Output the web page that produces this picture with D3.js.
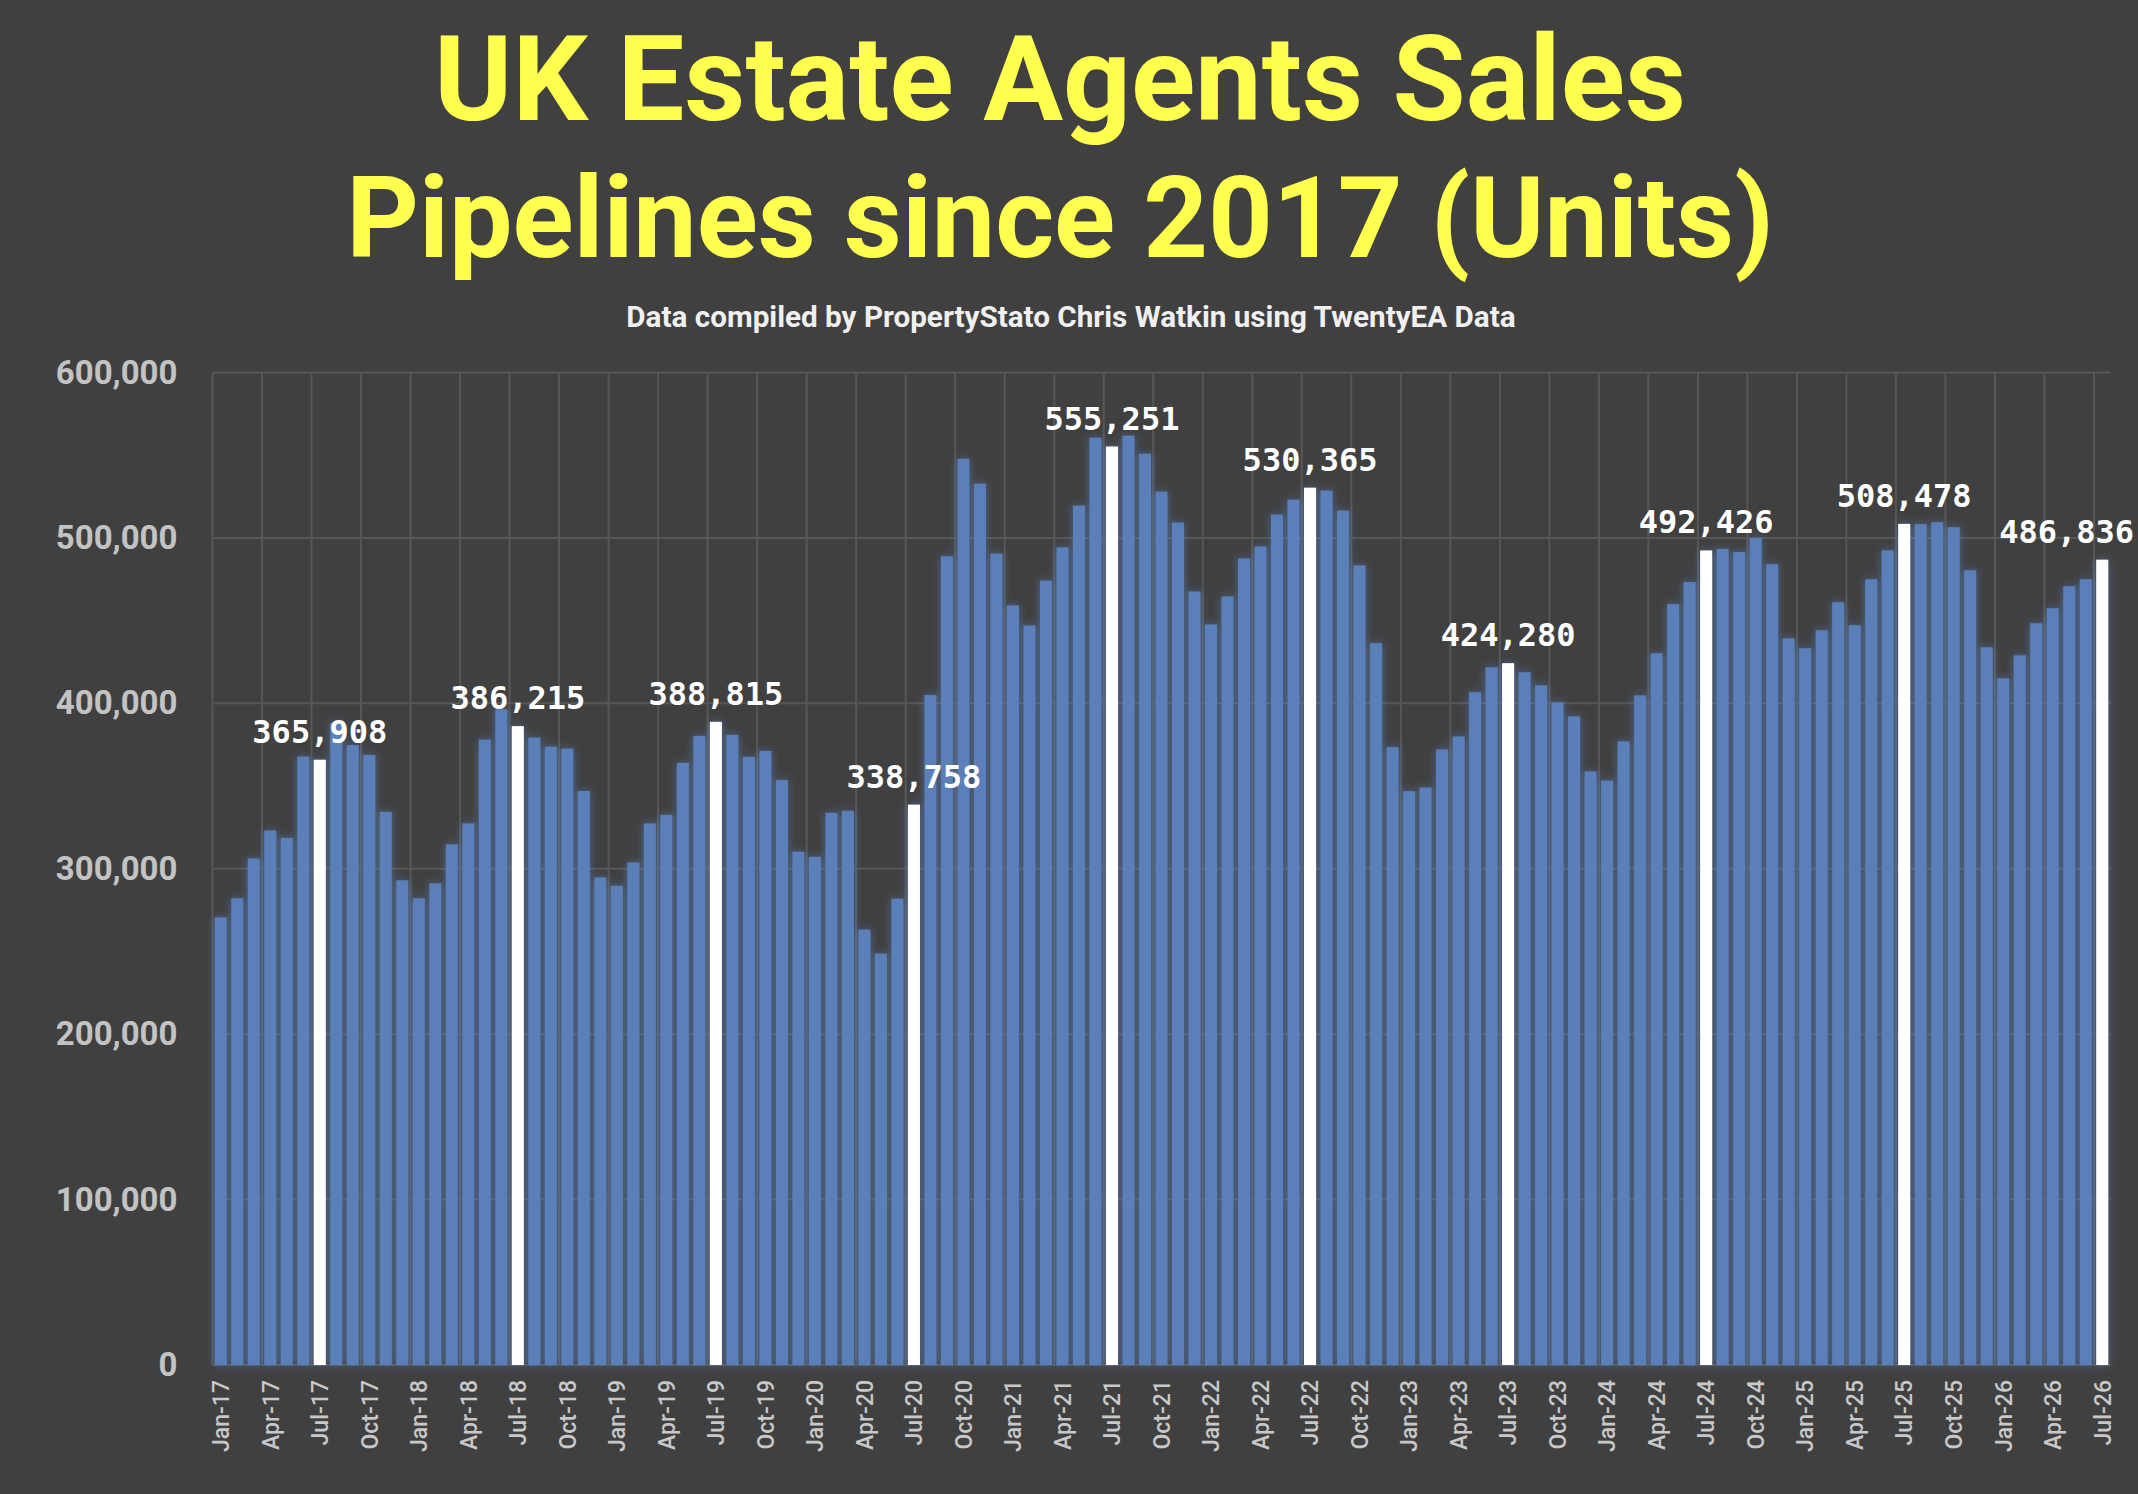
<!DOCTYPE html>
<html>
<head>
<meta charset="utf-8">
<script src="https://cdn.jsdelivr.net/npm/d3@7"></script>
<style>
  html, body { margin: 0; padding: 0; background: #404040; }
  svg { display: block; }
</style>
</head>
<body>
<svg id="chart" width="2138" height="1494"></svg>
<script>
// ---------------- DATA ----------------
const categories = [
  "Jan-17","Feb-17","Mar-17","Apr-17","May-17","Jun-17","Jul-17","Aug-17","Sep-17","Oct-17","Nov-17","Dec-17",
  "Jan-18","Feb-18","Mar-18","Apr-18","May-18","Jun-18","Jul-18","Aug-18","Sep-18","Oct-18","Nov-18","Dec-18",
  "Jan-19","Feb-19","Mar-19","Apr-19","May-19","Jun-19","Jul-19","Aug-19","Sep-19","Oct-19","Nov-19","Dec-19",
  "Jan-20","Feb-20","Mar-20","Apr-20","May-20","Jun-20","Jul-20","Aug-20","Sep-20","Oct-20","Nov-20","Dec-20",
  "Jan-21","Feb-21","Mar-21","Apr-21","May-21","Jun-21","Jul-21","Aug-21","Sep-21","Oct-21","Nov-21","Dec-21",
  "Jan-22","Feb-22","Mar-22","Apr-22","May-22","Jun-22","Jul-22","Aug-22","Sep-22","Oct-22","Nov-22","Dec-22",
  "Jan-23","Feb-23","Mar-23","Apr-23","May-23","Jun-23","Jul-23","Aug-23","Sep-23","Oct-23","Nov-23","Dec-23",
  "Jan-24","Feb-24","Mar-24","Apr-24","May-24","Jun-24","Jul-24","Aug-24","Sep-24","Oct-24","Nov-24","Dec-24",
  "Jan-25","Feb-25","Mar-25","Apr-25","May-25","Jun-25","Jul-25","Aug-25","Sep-25","Oct-25","Nov-25","Dec-25",
  "Jan-26","Feb-26","Mar-26","Apr-26","May-26","Jun-26","Jul-26"
];

const pipelineUnits = [
  270600,282100,306200,323100,318700,367800,365908,388000,374800,368800,334400,293000,
  282100,291200,314700,327400,378100,396400,386215,379300,373800,372600,347000,294800,
  289700,303800,327400,332600,364000,380300,388815,380900,367600,371200,353700,310300,
  307200,333800,335000,263200,248700,281900,338758,405000,488900,547800,532800,490500,
  459200,447100,474200,494300,519500,560600,555251,561800,550900,528000,509300,467600,
  447700,464600,487500,494800,514100,523100,530365,528600,516500,483400,436400,373500,
  346900,349100,372100,380000,406700,421800,424280,418800,410900,400600,392100,358800,
  353300,377000,404800,430300,460000,473300,492426,493300,491500,499800,484100,439300,
  433300,444200,461100,447200,475000,492500,508478,508300,509500,506500,480400,433900,
  415100,429000,448400,457500,470800,475000,486836
];

const highlighted = ["Jul-17","Jul-18","Jul-19","Jul-20","Jul-21","Jul-22","Jul-23","Jul-24","Jul-25","Jul-26"];

const xTickLabels = [
  "Jan-17","Apr-17","Jul-17","Oct-17","Jan-18","Apr-18","Jul-18","Oct-18",
  "Jan-19","Apr-19","Jul-19","Oct-19","Jan-20","Apr-20","Jul-20","Oct-20",
  "Jan-21","Apr-21","Jul-21","Oct-21","Jan-22","Apr-22","Jul-22","Oct-22",
  "Jan-23","Apr-23","Jul-23","Oct-23","Jan-24","Apr-24","Jul-24","Oct-24",
  "Jan-25","Apr-25","Jul-25","Oct-25","Jan-26","Apr-26","Jul-26"
];

const yTicks = [0,100000,200000,300000,400000,500000,600000];

const titleLines = ["UK Estate Agents Sales", "Pipelines since 2017 (Units)"];
const subtitle = "Data compiled by PropertyStato Chris Watkin using TwentyEA Data";

// ---------------- LAYOUT ----------------
const W = 2138, H = 1494;
const plot = { left: 212.5, right: 2110.5, top: 372.5, bottom: 1365 };

const svg = d3.select("#chart");
svg.append("rect").attr("width", W).attr("height", H).attr("fill", "#404040");

// glow filter
const defs = svg.append("defs");
const f = defs.append("filter").attr("id", "glow")
  .attr("x", "-60%").attr("y", "-10%").attr("width", "220%").attr("height", "120%");
f.append("feGaussianBlur").attr("in", "SourceAlpha").attr("stdDeviation", 4).attr("result", "blur");
f.append("feFlood").attr("flood-color", "#5b8ad0").attr("flood-opacity", 0.55).attr("result", "col");
f.append("feComposite").attr("in", "col").attr("in2", "blur").attr("operator", "in").attr("result", "glowc");
const fm = f.append("feMerge");
fm.append("feMergeNode").attr("in", "glowc");
fm.append("feMergeNode").attr("in", "SourceGraphic");

const x = d3.scaleBand()
  .domain(categories)
  .range([plot.left, plot.right])
  .paddingInner(0.27)
  .paddingOuter(0.135);

const y = d3.scaleLinear()
  .domain([0, 600000])
  .range([plot.bottom, plot.top]);

const gap = (x.step() - x.bandwidth()) / 2;
const gridColor = "#575757";

// horizontal gridlines
svg.append("g").selectAll("line").data(yTicks).join("line")
  .attr("x1", plot.left).attr("x2", plot.right)
  .attr("y1", d => y(d)).attr("y2", d => y(d))
  .attr("stroke", gridColor).attr("stroke-width", 2);

// vertical gridlines (every 3 months at category boundaries)
svg.append("g").selectAll("line").data(xTickLabels).join("line")
  .attr("x1", d => x(d) - gap).attr("x2", d => x(d) - gap)
  .attr("y1", plot.top).attr("y2", plot.bottom)
  .attr("stroke", gridColor).attr("stroke-width", 2);

// bars
const data = categories.map((c, i) => ({ c, v: pipelineUnits[i], hi: highlighted.includes(c) }));

svg.append("g").attr("filter", "url(#glow)")
  .selectAll("rect").data(data).join("rect")
  .attr("x", d => x(d.c))
  .attr("width", x.bandwidth())
  .attr("y", d => y(d.v))
  .attr("height", d => y(0) - y(d.v))
  .attr("fill", d => d.hi ? "#ffffff" : "#5a7fb9");

// y axis
const yAxis = svg.append("g")
  .attr("transform", `translate(${plot.left},0)`)
  .call(d3.axisLeft(y).tickValues(yTicks).tickFormat(d3.format(",")).tickSize(0).tickPadding(35));
yAxis.select(".domain").remove();
yAxis.selectAll("text")
  .attr("fill", "#c3c3c3")
  .style("font-family", "Roboto, 'DejaVu Sans', sans-serif")
  .style("font-weight", "700")
  .style("font-size", "33px");

// x axis
const xAxis = svg.append("g")
  .attr("transform", `translate(0,${plot.bottom})`)
  .call(d3.axisBottom(x).tickValues(xTickLabels).tickSize(0));
xAxis.select(".domain").remove();
xAxis.selectAll("text")
  .attr("transform", "rotate(-90)")
  .attr("x", -15).attr("y", 0).attr("dy", "0.36em")
  .style("text-anchor", "end")
  .attr("fill", "#c8c8c8")
  .style("font-family", "Roboto, 'DejaVu Sans', sans-serif")
  .style("font-weight", "500")
  .style("font-size", "23px");

// data labels on highlighted bars (kept inside the picture, as the reference does)
svg.append("g").selectAll("text").data(data.filter(d => d.hi)).join("text")
  .attr("x", d => x(d.c) + x.bandwidth() / 2)
  .attr("y", d => y(d.v) - 17)
  .attr("text-anchor", "middle")
  .attr("fill", "#ffffff")
  .style("font-family", "'DejaVu Sans Mono', monospace")
  .style("font-weight", "700")
  .style("font-size", "32px")
  .text(d => d3.format(",")(d.v))
  .each(function(d) {
    const w = this.getComputedTextLength();
    const cx = +this.getAttribute("x");
    const maxRight = W - 4;
    if (cx + w / 2 > maxRight) this.setAttribute("x", maxRight - w / 2);
  });

// title (each line fitted to the reference's width)
const titleTargets = [1252, 1428];
svg.append("g").selectAll("text").data(titleLines).join("text")
  .attr("x", 1060)
  .attr("y", (d, i) => i === 0 ? 120 : 257)
  .attr("text-anchor", "middle")
  .attr("fill", "#ffff4f")
  .style("font-family", "Roboto, 'DejaVu Sans', sans-serif")
  .style("font-weight", "700")
  .attr("font-size", 100)
  .text(d => d)
  .each(function(d, i) {
    const w = this.getComputedTextLength();
    this.setAttribute("font-size", 100 * titleTargets[i] / w);
  });

// subtitle
const sub = svg.append("text")
  .attr("x", 1071).attr("y", 327)
  .attr("text-anchor", "middle")
  .attr("fill", "#f0f0f0")
  .style("font-family", "Roboto, 'DejaVu Sans', sans-serif")
  .style("font-weight", "700")
  .attr("font-size", 30)
  .text(subtitle);
const sw = sub.node().getComputedTextLength();
sub.attr("font-size", 30 * 890 / sw);
</script>
</body>
</html>
